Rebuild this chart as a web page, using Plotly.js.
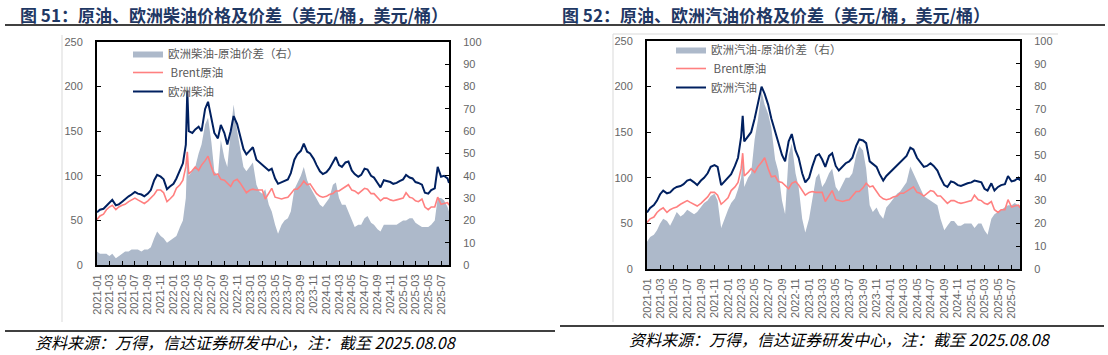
<!DOCTYPE html>
<html>
<head>
<meta charset="utf-8">
<script src="https://cdn.plot.ly/plotly-3.0.1.min.js"></script>
<style>
  html, body { margin: 0; padding: 0; background: #fff; }
  #chart { width: 1108px; height: 355px; }
</style>
</head>
<body>
<div id="chart"></div>
<script>
// ---- dates (shared by both panels) ----
const dates = [
  '2021-01-01','2021-01-15','2021-02-01','2021-02-15','2021-03-01','2021-03-15','2021-04-01','2021-04-15','2021-05-01','2021-05-15','2021-06-01','2021-06-15','2021-07-01','2021-07-15','2021-08-01','2021-08-15','2021-09-01','2021-09-15','2021-10-01','2021-10-15','2021-11-01','2021-11-15','2021-12-01','2021-12-15',
  '2022-01-01','2022-01-15','2022-02-01','2022-02-15','2022-03-01','2022-03-08','2022-03-15','2022-04-01','2022-04-15','2022-05-01','2022-05-15','2022-06-01','2022-06-15','2022-07-01','2022-07-15','2022-08-01','2022-08-15','2022-09-01','2022-09-15','2022-10-01','2022-10-15','2022-11-01','2022-11-15','2022-12-01','2022-12-15',
  '2023-01-01','2023-01-15','2023-02-01','2023-02-15','2023-03-01','2023-03-15','2023-04-01','2023-04-15','2023-05-01','2023-05-15','2023-06-01','2023-06-15','2023-07-01','2023-07-15','2023-08-01','2023-08-15','2023-09-01','2023-09-15','2023-10-01','2023-10-15','2023-11-01','2023-11-15','2023-12-01','2023-12-15',
  '2024-01-01','2024-01-15','2024-02-01','2024-02-15','2024-03-01','2024-03-15','2024-04-01','2024-04-15','2024-05-01','2024-05-15','2024-06-01','2024-06-15','2024-07-01','2024-07-15','2024-08-01','2024-08-15','2024-09-01','2024-09-15','2024-10-01','2024-10-15','2024-11-01','2024-11-15','2024-12-01','2024-12-15',
  '2025-01-01','2025-01-15','2025-02-01','2025-02-15','2025-03-01','2025-03-15','2025-04-01','2025-04-15','2025-05-01','2025-05-15','2025-06-01','2025-06-15','2025-07-01','2025-07-15','2025-08-01','2025-08-08'
];

// Brent crude (USD/bbl)
const brent = [
  51,55,57,62,65,67,62,65,67,68,71,73,75,73,71,69,72,75,79,84,84,81,71,74,
  78,86,90,95,110,127,102,106,110,106,112,117,122,110,101,102,96,95,92,88,94,96,92,86,81,
  84,85,84,84,84,74,80,86,76,75,74,75,76,80,85,85,89,94,90,91,85,80,77,76,
  77,79,80,83,83,85,88,90,84,83,80,83,86,85,80,80,76,72,75,75,73,72,73,74,
  75,81,76,75,72,71,74,65,62,65,65,76,68,69,70,67
];

// European diesel (USD/bbl)
const diesel = [
  59,62,63,66,70,73,67,68,71,74,77,79,82,80,79,77,80,84,95,101,99,96,85,88,
  91,97,106,114,135,195,150,148,152,155,150,175,183,166,148,142,157,148,135,150,167,158,145,130,124,
  128,132,118,115,113,110,106,108,97,91,93,95,96,103,118,124,128,136,127,125,119,112,105,102,
  104,108,116,121,112,110,115,116,106,102,99,101,108,107,100,98,92,87,95,94,93,91,92,94,
  96,101,98,97,93,92,90,81,80,84,86,110,99,100,97,92
];

// Diesel - crude spread (right axis)
const dieselSpread = [
  6,5,5,5,4,5,3,4,5,6,6,7,7,7,6,7,7,8,12,15,13,12,10,11,
  12,13,17,20,30,51,40,42,44,50,54,63,66,55,42,40,56,48,44,60,72,60,52,44,42,
  44,46,36,33,32,34,27,24,18,14,18,20,21,24,34,37,40,44,38,35,32,30,27,26,
  28,30,36,37,30,27,27,24,20,17,18,18,21,22,19,18,16,15,18,18,18,18,18,19,
  20,20,21,21,19,18,17,17,17,18,20,30,30,29,26,24
];

// European gasoline (USD/bbl)
const gasoline = [
  62,67,70,75,82,86,83,84,88,90,91,93,97,98,95,92,97,100,105,112,114,112,92,96,
  100,104,113,122,145,168,140,145,150,165,180,200,192,180,165,150,140,125,118,140,148,130,122,105,95,
  100,112,124,126,120,112,124,127,113,108,112,116,118,122,135,142,141,138,118,115,112,104,97,102,
  106,110,114,117,120,124,133,131,122,118,112,113,116,113,108,100,92,90,96,95,92,91,93,94,
  95,97,96,95,88,86,94,86,90,92,93,102,96,97,100,97
];

// Gasoline - crude spread (right axis)
const gasolineSpread = [
  12,14,15,17,20,22,21,19,22,25,23,24,26,25,24,25,27,29,30,32,33,30,18,22,
  26,29,31,35,40,49,36,40,42,57,65,78,72,68,62,48,43,30,24,50,55,42,36,22,16,
  22,30,40,42,36,38,42,44,36,34,37,40,40,42,50,54,52,44,28,25,27,24,22,27,
  29,31,33,34,36,38,45,42,38,35,32,31,30,29,28,22,17,19,21,21,19,19,20,20,
  20,18,20,20,17,15,22,24,25,26,27,28,28,29,28,28
];

const labels = {
  t1: '<b>图 51：原油、欧洲柴油价格及价差（美元/桶，美元/桶）</b>',
  t2: '<b>图 52：原油、欧洲汽油价格及价差（美元/桶，美元/桶）</b>',
  src: '资料来源：万得，信达证券研发中心，注：截至 2025.08.08',
  dieselSpread: '欧洲柴油-原油价差（右）',
  gasolineSpread: '欧洲汽油-原油价差（右）',
  brent: ' Brent原油',
  diesel: '欧洲柴油',
  gasoline: '欧洲汽油'
};

// ---- styling ----
const W = 1108, H = 355;
const px = x => x / W;
const py = y => 1 - y / H;
const NAVY = '#002060', PINK = '#FF8080', AREA = '#ADB9CA';
const tickFont = {family: '"Liberation Sans", Arial, sans-serif', size: 11, color: '#666666'};
const cjk = '"Noto Sans CJK SC", "Noto Sans", sans-serif';

function xAxis(domain, anchor) {
  return {
    domain, anchor, type: 'date', range: ['2021-01-01', '2025-08-08'],
    tick0: '2021-01-01', dtick: 'M2', tickformat: '%Y-%m', tickangle: -90,
    ticks: 'inside', ticklen: 4, tickcolor: '#000', tickwidth: 1,
    showline: true, linecolor: '#000', linewidth: 2, mirror: true,
    showgrid: false, zeroline: false, tickfont: tickFont, ticklabelstandoff: 3,
    fixedrange: true
  };
}
function yAxis(domain, anchor, side, range, dtick, extra) {
  return Object.assign({
    domain, anchor, side, range, dtick, tick0: 0,
    ticks: 'inside', ticklen: 4, tickcolor: '#000', tickwidth: 1,
    showline: true, linecolor: '#000', linewidth: 2,
    showgrid: false, zeroline: false, tickfont: tickFont, ticklabelstandoff: 10,
    fixedrange: true
  }, extra || {});
}

const traces = [
  // left panel
  {x: dates, y: dieselSpread, name: labels.dieselSpread, type: 'scatter', mode: 'lines',
   fill: 'tozeroy', fillcolor: AREA, line: {width: 0, color: AREA}, xaxis: 'x', yaxis: 'y', legend: 'legend'},
  {x: dates, y: brent, name: labels.brent, type: 'scatter', mode: 'lines',
   line: {width: 1.6, color: PINK}, xaxis: 'x', yaxis: 'y2', legend: 'legend'},
  {x: dates, y: diesel, name: labels.diesel, type: 'scatter', mode: 'lines',
   line: {width: 2, color: NAVY}, xaxis: 'x', yaxis: 'y2', legend: 'legend'},
  // right panel
  {x: dates, y: gasolineSpread, name: labels.gasolineSpread, type: 'scatter', mode: 'lines',
   fill: 'tozeroy', fillcolor: AREA, line: {width: 0, color: AREA}, xaxis: 'x2', yaxis: 'y3', legend: 'legend2'},
  {x: dates, y: brent, name: labels.brent, type: 'scatter', mode: 'lines',
   line: {width: 1.6, color: PINK}, xaxis: 'x2', yaxis: 'y4', legend: 'legend2'},
  {x: dates, y: gasoline, name: labels.gasoline, type: 'scatter', mode: 'lines',
   line: {width: 2, color: NAVY}, xaxis: 'x2', yaxis: 'y4', legend: 'legend2'}
];

const leftY = [py(265), py(42)];
const rightY = [py(269), py(41)];
const legendBase = {
  xanchor: 'left', yanchor: 'top', bgcolor: 'rgba(0,0,0,0)', borderwidth: 0,
  font: {family: cjk, size: 11.5, color: '#595959'}, traceorder: 'normal', tracegroupgap: 0, itemwidth: 30
};

const gray = '#D9D9D9';
const layout = {
  width: W, height: H, margin: {l: 0, r: 0, t: 0, b: 0},
  paper_bgcolor: '#ffffff', plot_bgcolor: 'rgba(0,0,0,0)',
  showlegend: true,
  xaxis: xAxis([px(97), px(449)], 'y'),
  yaxis: yAxis(leftY, 'x', 'right', [0, 100], 10),
  yaxis2: yAxis(leftY, 'x', 'left', [0, 250], 50, {overlaying: 'y'}),
  xaxis2: xAxis([px(647), px(1020)], 'y3'),
  yaxis3: yAxis(rightY, 'x2', 'right', [0, 100], 10),
  yaxis4: yAxis(rightY, 'x2', 'left', [0, 250], 50, {overlaying: 'y3'}),
  legend: Object.assign({x: px(128), y: py(39)}, legendBase),
  legend2: Object.assign({x: px(671), y: py(35)}, legendBase),
  annotations: [
    {text: labels.t1, x: px(234), y: py(15), xref: 'paper', yref: 'paper', xanchor: 'center', yanchor: 'middle',
     showarrow: false, font: {family: cjk, size: 17, color: '#1F3864'}},
    {text: labels.t2, x: px(776), y: py(15), xref: 'paper', yref: 'paper', xanchor: 'center', yanchor: 'middle',
     showarrow: false, font: {family: cjk, size: 17, color: '#1F3864'}},
    {text: '<i>' + labels.src + '</i>', x: px(33), y: py(342), xref: 'paper', yref: 'paper', xanchor: 'left', yanchor: 'middle',
     showarrow: false, font: {family: cjk, size: 16, color: '#000'}},
    {text: '<i>' + labels.src + '</i>', x: px(627), y: py(339), xref: 'paper', yref: 'paper', xanchor: 'left', yanchor: 'middle',
     showarrow: false, font: {family: cjk, size: 16, color: '#000'}}
  ],
  shapes: [
    // title underline
    {type: 'line', xref: 'paper', yref: 'paper', x0: px(5), x1: px(1105), y0: py(25), y1: py(25), line: {color: '#000', width: 1.5}},
    // footer lines
    {type: 'line', xref: 'paper', yref: 'paper', x0: px(5), x1: px(555), y0: py(331), y1: py(331), line: {color: '#000', width: 1.5}},
    {type: 'line', xref: 'paper', yref: 'paper', x0: px(560), x1: px(1104), y0: py(326), y1: py(326), line: {color: '#000', width: 1.5}},
    // light frames
    {type: 'line', xref: 'paper', yref: 'paper', x0: px(62), x1: px(62), y0: py(35), y1: py(322), line: {color: gray, width: 1}},
    {type: 'line', xref: 'paper', yref: 'paper', x0: px(613), x1: px(613), y0: py(34), y1: py(322), line: {color: gray, width: 1}},
    {type: 'line', xref: 'paper', yref: 'paper', x0: px(613), x1: px(1058), y0: py(34), y1: py(34), line: {color: gray, width: 1}}
  ]
};

Plotly.newPlot('chart', traces, layout, {displayModeBar: false, staticPlot: true});
</script>
</body>
</html>
